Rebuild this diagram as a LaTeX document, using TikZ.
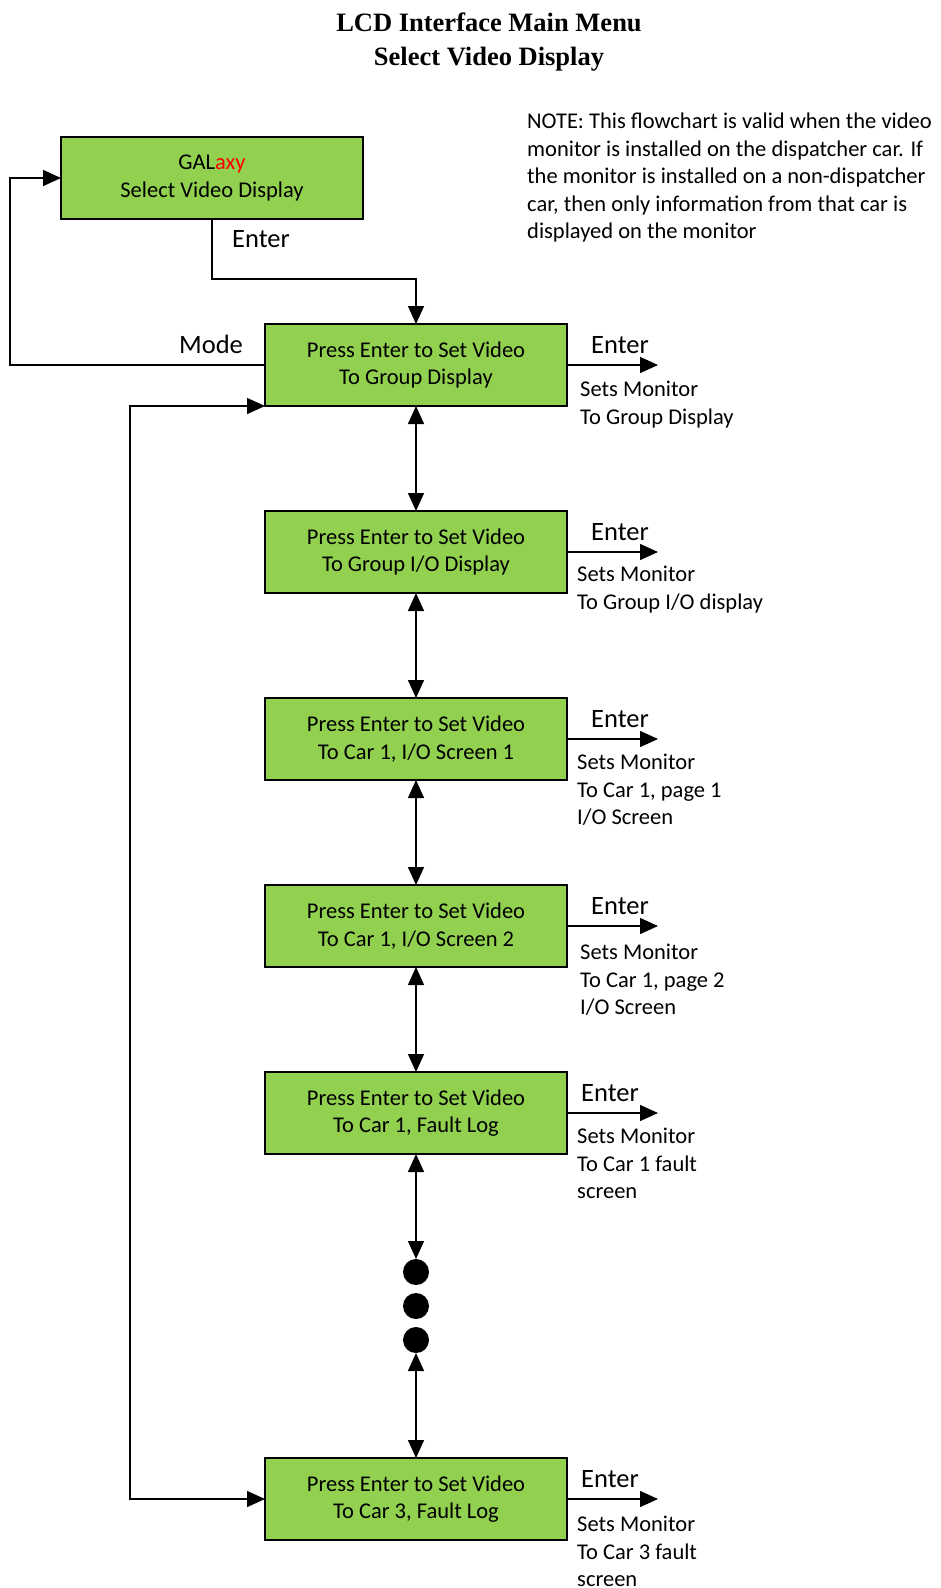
\documentclass[tikz,border=0pt]{standalone}
\usepackage{fontspec}
\setmainfont{Carlito}
\newfontfamily\titlefont{Liberation Serif}
\usetikzlibrary{positioning,arrows.meta}

\definecolor{galgreen}{RGB}{146,208,80}
\definecolor{galred}{RGB}{255,0,0}
\newcommand{\boxfont}{\fontsize{22.5}{27.4}\selectfont}
\newcommand{\keyfont}{\fontsize{26.5}{30}\selectfont}
\newcommand{\headfont}{\titlefont\bfseries\fontsize{26.5}{33.5}\selectfont}

\begin{document}
\begin{tikzpicture}[
    x=1pt, y=-1pt,
    node distance=105pt,
    menubox/.style={rectangle, draw, line width=2.4pt, outer sep=0pt, fill=galgreen, minimum width=302pt, minimum height=82pt, align=center, font=\boxfont},
    dot/.style={circle, fill=black, minimum size=26pt, inner sep=0pt, outer sep=0pt},
    keylabel/.style={font=\keyfont, inner sep=0pt},
    result/.style={font=\boxfont, align=left, inner sep=0pt},
    link/.style={line width=1.4pt, -{Triangle[length=18pt,width=16pt]}},
    twoway/.style={line width=1.4pt, {Triangle[length=18pt,width=16pt]}-{Triangle[length=18pt,width=16pt]}}
]
    \useasboundingbox (0,0) rectangle (940,1588);

    \node[font=\headfont, align=center, anchor=north, inner sep=0pt] (title) at (489,13) {LCD Interface Main Menu\\Select Video Display};
    \node[result, anchor=north west] (note) at (527,113) {NOTE: This flowchart is valid when the video\\monitor is installed on the dispatcher car. If\\the monitor is installed on a non-dispatcher\\car, then only information from that car is\\displayed on the monitor};

    \node[menubox] (galaxy) at (212,178) {GAL\textcolor{galred}{axy}\\Select Video Display};
    \node[menubox] (box1) at (416,365) {Press Enter to Set Video\\To Group Display};
    \node[menubox, below=of box1] (box2) {Press Enter to Set Video\\To Group I/O Display};
    \node[menubox, below=of box2] (box3) {Press Enter to Set Video\\To Car 1, I/O Screen 1};
    \node[menubox, below=of box3] (box4) {Press Enter to Set Video\\To Car 1, I/O Screen 2};
    \node[menubox, below=of box4] (box5) {Press Enter to Set Video\\To Car 1, Fault Log};
    \node[dot, below=of box5] (dot1) {};
    \node[dot, below=8pt of dot1] (dot2) {};
    \node[dot, below=8pt of dot2] (dot3) {};
    \node[menubox, below=of dot3] (box6) {Press Enter to Set Video\\To Car 3, Fault Log};

    % outputs on the right
    \coordinate[right=91pt of box1.east] (out1);
    \coordinate[right=91pt of box2.east] (out2);
    \coordinate[right=91pt of box3.east] (out3);
    \coordinate[right=91pt of box4.east] (out4);
    \coordinate[right=91pt of box5.east] (out5);
    \coordinate[right=91pt of box6.east] (out6);

    \node[keylabel, above right=11pt and 24pt of box1.east] (key1) {Enter};
    \node[keylabel, above right=11pt and 24pt of box2.east] (key2) {Enter};
    \node[keylabel, above right=11pt and 24pt of box3.east] (key3) {Enter};
    \node[keylabel, above right=11pt and 24pt of box4.east] (key4) {Enter};
    \node[keylabel, above right=11pt and 14pt of box5.east] (key5) {Enter};
    \node[keylabel, above right=11pt and 14pt of box6.east] (key6) {Enter};

    \node[result, below right=16pt and 13pt of box1.east] (set1) {Sets Monitor\\To Group Display};
    \node[result, below right=14pt and 10pt of box2.east] (set2) {Sets Monitor\\To Group I/O display};
    \node[result, below right=15pt and 10pt of box3.east] (set3) {Sets Monitor\\To Car 1, page 1\\I/O Screen};
    \node[result, below right=18pt and 13pt of box4.east] (set4) {Sets Monitor\\To Car 1, page 2\\I/O Screen};
    \node[result, below right=15pt and 10pt of box5.east] (set5) {Sets Monitor\\To Car 1 fault\\screen};
    \node[result, below right=17pt and 10pt of box6.east] (set6) {Sets Monitor\\To Car 3 fault\\screen};

    \node[keylabel] (enter0) at (261,239) {Enter};
    \node[keylabel] (mode) at (211,344) {Mode};

    \draw[link] (galaxy.south) -- ++(0,60) -| (box1.north);
    \draw[link] (box1.west) -- ++(-255,0) |- (galaxy.west);
    \draw[twoway] (box1.south west) -- ++(-135,0) |- (box6.west);

    \draw[twoway] (box1) -- (box2);
    \draw[twoway] (box2) -- (box3);
    \draw[twoway] (box3) -- (box4);
    \draw[twoway] (box4) -- (box5);
    \draw[twoway] (box5) -- (dot1);
    \draw[twoway] (dot3) -- (box6);

    \draw[link] (box1.east) -- (out1);
    \draw[link] (box2.east) -- (out2);
    \draw[link] (box3.east) -- (out3);
    \draw[link] (box4.east) -- (out4);
    \draw[link] (box5.east) -- (out5);
    \draw[link] (box6.east) -- (out6);
\end{tikzpicture}
\end{document}
